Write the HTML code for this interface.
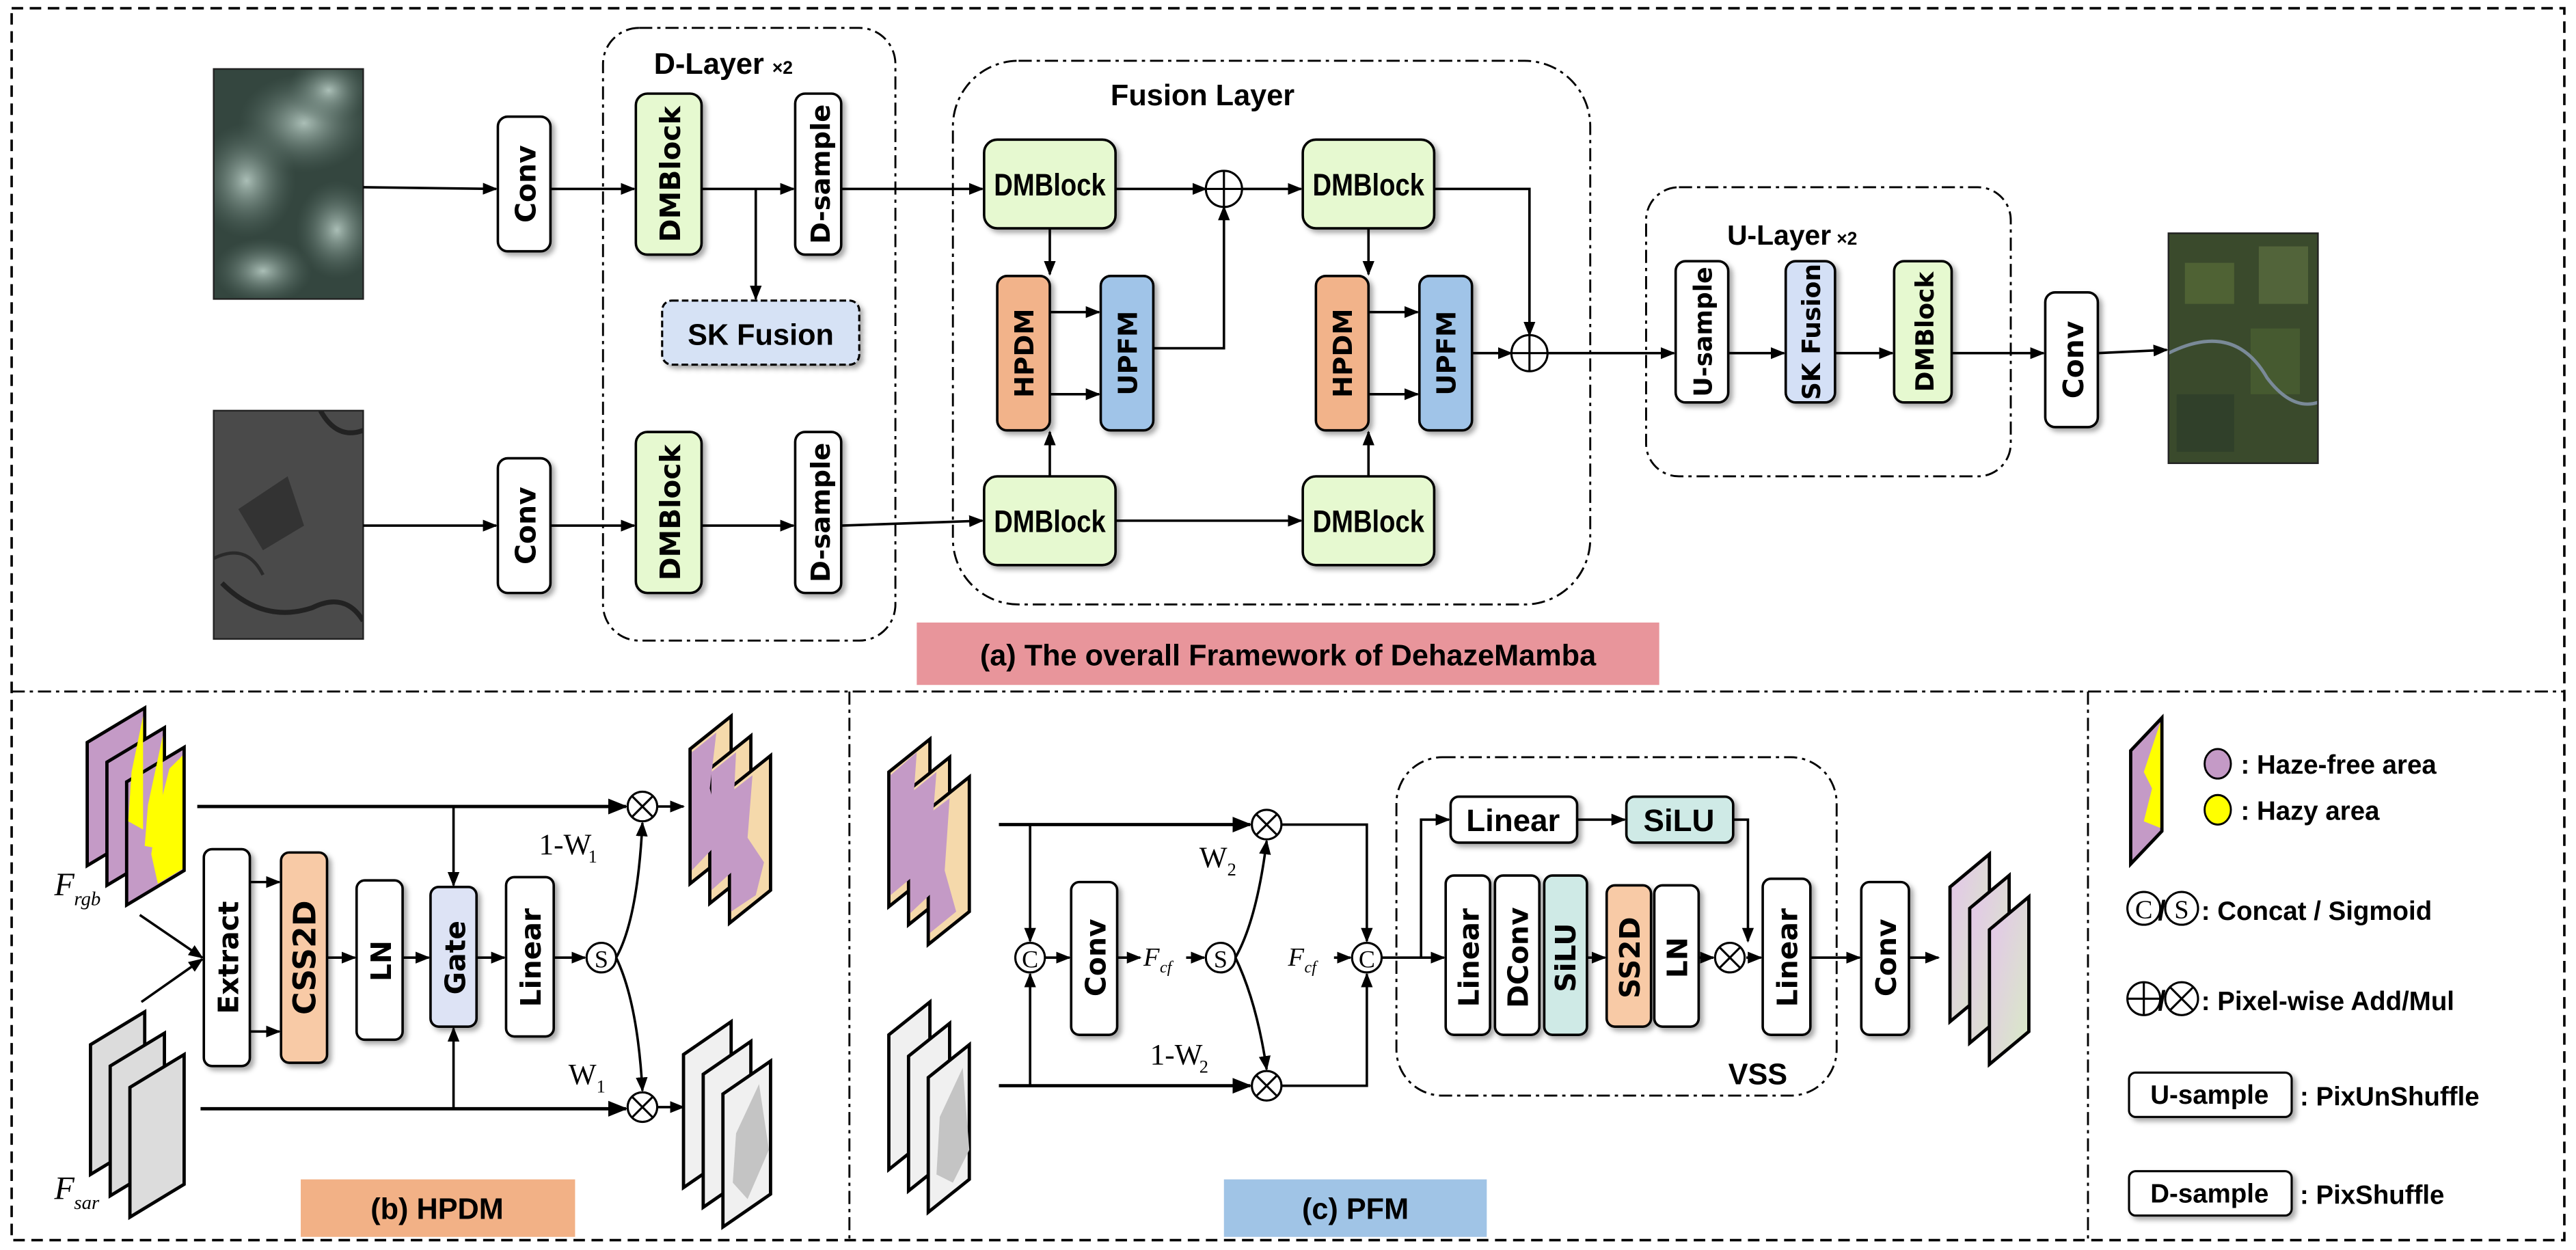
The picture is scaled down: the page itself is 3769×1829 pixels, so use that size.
<!DOCTYPE html>
<html><head><meta charset="utf-8"><style>
html,body{margin:0;padding:0;background:#fff}
svg{display:block}
text{font-family:"Liberation Sans",sans-serif;font-weight:bold;fill:#000}
.v{font-family:"DejaVu Sans","Liberation Sans",sans-serif;font-weight:bold}
.it{font-family:"Liberation Serif",serif;font-style:italic;font-weight:normal}
.rm{font-family:"Liberation Serif",serif;font-weight:normal}
</style></head><body>
<svg width="3769" height="1829" viewBox="0 0 1568 761" xmlns="http://www.w3.org/2000/svg">
<defs>
<marker id="a" viewBox="0 0 10 10" refX="9" refY="5" markerWidth="6" markerHeight="6" orient="auto"><path d="M0,1 L10,5 L0,9 z" fill="#000"/></marker>
<filter id="sh" x="-20%" y="-20%" width="150%" height="150%"><feDropShadow dx="2" dy="2" stdDeviation="1.5" flood-color="#000" flood-opacity="0.35"/></filter>
<linearGradient id="pg" x1="0" y1="0" x2="1" y2="1"><stop offset="0" stop-color="#e4c4ec"/><stop offset="1" stop-color="#d8ecc4"/></linearGradient>
<radialGradient id="cl" cx="0.5" cy="0.5" r="0.5"><stop offset="0" stop-color="#b8ccc4" stop-opacity="0.9"/><stop offset="1" stop-color="#5a7068" stop-opacity="0"/></radialGradient>
<clipPath id="c1"><rect x="130" y="42" width="91" height="140"/></clipPath>
<clipPath id="c2"><rect x="130" y="250" width="91" height="139"/></clipPath>
<clipPath id="c3"><rect x="1320" y="142" width="91" height="140"/></clipPath>
</defs>
<rect width="1568" height="761" fill="#fff"/>
<rect x="7" y="5" width="1554" height="750" fill="none" stroke="#000" stroke-width="1.5" stroke-dasharray="7,4"/>
<line x1="7" y1="421" x2="1561" y2="421" stroke="#000" stroke-width="1.2" stroke-dasharray="8,3,2,3"/>
<line x1="517" y1="421" x2="517" y2="755" stroke="#000" stroke-width="1.2" stroke-dasharray="8,3,2,3"/>
<line x1="1271" y1="421" x2="1271" y2="755" stroke="#000" stroke-width="1.2" stroke-dasharray="8,3,2,3"/>

<!-- images -->
<g clip-path="url(#c1)">
<rect x="130" y="42" width="91" height="140" fill="#34463f"/>
<ellipse cx="185" cy="75" rx="40" ry="30" fill="url(#cl)"/>
<ellipse cx="150" cy="110" rx="30" ry="35" fill="url(#cl)"/>
<ellipse cx="205" cy="140" rx="25" ry="30" fill="url(#cl)"/>
<ellipse cx="160" cy="165" rx="30" ry="20" fill="url(#cl)"/>
<ellipse cx="200" cy="55" rx="25" ry="20" fill="url(#cl)"/>
</g>
<rect x="130" y="42" width="91" height="140" fill="none" stroke="#222" stroke-width="1"/>
<g clip-path="url(#c2)">
<rect x="130" y="250" width="91" height="139" fill="#4a4a4a"/>
<path d="M135,355 Q160,380 190,370 Q210,360 221,378" stroke="#222" stroke-width="3" fill="none"/>
<path d="M195,250 Q205,268 221,262" stroke="#222" stroke-width="3" fill="none"/>
<path d="M145,310 L175,290 L185,320 L160,335 z" fill="#333"/>
<path d="M130,340 Q150,330 160,350" stroke="#2a2a2a" stroke-width="2" fill="none"/>
</g>
<rect x="130" y="250" width="91" height="139" fill="none" stroke="#222"/>
<g clip-path="url(#c3)">
<rect x="1320" y="142" width="91" height="140" fill="#3a4a2c"/>
<rect x="1330" y="160" width="30" height="25" fill="#4f6234"/><rect x="1370" y="200" width="30" height="40" fill="#465a30"/>
<rect x="1325" y="240" width="35" height="35" fill="#30402a"/><rect x="1375" y="150" width="30" height="35" fill="#52643a"/>
<path d="M1320,215 Q1360,195 1380,230 Q1395,250 1411,245" stroke="#7a8a98" stroke-width="2" fill="none"/>
</g>
<rect x="1320" y="142" width="91" height="140" fill="none" stroke="#222"/>

<rect x="367" y="17" width="178" height="373" rx="22" fill="none" stroke="#000" stroke-width="1.2" stroke-dasharray="8,3,2,3"/>
<text x="398" y="45" font-size="18">D-Layer</text><text x="470" y="45" font-size="11">×2</text>
<rect x="580" y="37" width="388" height="331" rx="40" fill="none" stroke="#000" stroke-width="1.2" stroke-dasharray="8,3,2,3"/>
<text x="732" y="64" font-size="18" text-anchor="middle">Fusion Layer</text>
<rect x="1002" y="114" width="222" height="176" rx="20" fill="none" stroke="#000" stroke-width="1.2" stroke-dasharray="8,3,2,3"/>
<text x="1083" y="149" font-size="17" text-anchor="middle">U-Layer</text><text x="1118" y="149" font-size="11">×2</text>

<g stroke="#000" stroke-width="1.5" filter="url(#sh)">
<rect x="303" y="71" width="32" height="82" rx="6" fill="#fff"/>
<rect x="303" y="279" width="32" height="82" rx="6" fill="#fff"/>
<rect x="387" y="57" width="40" height="98" rx="7" fill="#e6f9d0"/>
<rect x="484" y="57" width="28" height="98" rx="6" fill="#fff"/>
<rect x="387" y="263" width="40" height="98" rx="7" fill="#e6f9d0"/>
<rect x="484" y="263" width="28" height="98" rx="6" fill="#fff"/>
<rect x="599" y="85" width="80" height="54" rx="8" fill="#e6f9d0"/>
<rect x="793" y="85" width="80" height="54" rx="8" fill="#e6f9d0"/>
<rect x="599" y="290" width="80" height="54" rx="8" fill="#e6f9d0"/>
<rect x="793" y="290" width="80" height="54" rx="8" fill="#e6f9d0"/>
<rect x="607" y="168" width="32" height="94" rx="6" fill="#f2b38a"/>
<rect x="670" y="168" width="32" height="94" rx="6" fill="#a0c4e8"/>
<rect x="801" y="168" width="32" height="94" rx="6" fill="#f2b38a"/>
<rect x="864" y="168" width="32" height="94" rx="6" fill="#a0c4e8"/>
<rect x="1020" y="159" width="32" height="86" rx="6" fill="#fff"/>
<rect x="1087" y="159" width="30" height="86" rx="6" fill="#d4e0f6"/>
<rect x="1153" y="159" width="35" height="86" rx="6" fill="#e6f9d0"/>
<rect x="1245" y="178" width="32" height="82" rx="6" fill="#fff"/>
</g>
<rect x="403" y="183" width="120" height="39" rx="6" fill="#d6e2f5" stroke="#000" stroke-width="1.3" stroke-dasharray="4,2" filter="url(#sh)"/>
<text x="463" y="210" font-size="18" text-anchor="middle">SK Fusion</text>

<g class="v" font-size="17">
<text class="v" transform="translate(326,112) rotate(-90)" text-anchor="middle">Conv</text>
<text class="v" transform="translate(326,320) rotate(-90)" text-anchor="middle">Conv</text>
<text class="v" transform="translate(414,106) rotate(-90)" text-anchor="middle">DMBlock</text>
<text class="v" transform="translate(414,312) rotate(-90)" text-anchor="middle">DMBlock</text>
<text class="v" transform="translate(505,106) rotate(-90)" text-anchor="middle" font-size="16">D-sample</text>
<text class="v" transform="translate(505,312) rotate(-90)" text-anchor="middle" font-size="16">D-sample</text>
<text class="v" transform="translate(629,215) rotate(-90)" text-anchor="middle" font-size="16">HPDM</text>
<text class="v" transform="translate(692,215) rotate(-90)" text-anchor="middle" font-size="16">UPFM</text>
<text class="v" transform="translate(823,215) rotate(-90)" text-anchor="middle" font-size="16">HPDM</text>
<text class="v" transform="translate(886,215) rotate(-90)" text-anchor="middle" font-size="16">UPFM</text>
<text class="v" transform="translate(1042,202) rotate(-90)" text-anchor="middle" font-size="15">U-sample</text>
<text class="v" transform="translate(1108,202) rotate(-90)" text-anchor="middle" font-size="15">SK Fusion</text>
<text class="v" transform="translate(1177,202) rotate(-90)" text-anchor="middle" font-size="15">DMBlock</text>
<text class="v" transform="translate(1268,219) rotate(-90)" text-anchor="middle">Conv</text>
</g>
<g font-size="19">
<text x="605" y="119" textLength="68" lengthAdjust="spacingAndGlyphs">DMBlock</text>
<text x="799" y="119" textLength="68" lengthAdjust="spacingAndGlyphs">DMBlock</text>
<text x="605" y="324" textLength="68" lengthAdjust="spacingAndGlyphs">DMBlock</text>
<text x="799" y="324" textLength="68" lengthAdjust="spacingAndGlyphs">DMBlock</text>
</g>

<g stroke="#000" stroke-width="1.5" fill="none" marker-end="url(#a)">
<line x1="221" y1="114" x2="302" y2="115"/>
<line x1="335" y1="115" x2="386" y2="115"/>
<line x1="427" y1="115" x2="483" y2="115"/>
<line x1="460" y1="115" x2="460" y2="182"/>
<line x1="512" y1="115" x2="598" y2="115"/>
<line x1="679" y1="115" x2="734" y2="115"/>
<line x1="756" y1="115" x2="792" y2="115"/>
<line x1="639" y1="139" x2="639" y2="167"/>
<line x1="639" y1="290" x2="639" y2="263"/>
<line x1="833" y1="139" x2="833" y2="167"/>
<line x1="833" y1="290" x2="833" y2="263"/>
<line x1="639" y1="190" x2="669" y2="190"/>
<line x1="639" y1="240" x2="669" y2="240"/>
<line x1="833" y1="190" x2="863" y2="190"/>
<line x1="833" y1="240" x2="863" y2="240"/>
<polyline points="702,212 745,212 745,126"/>
<polyline points="873,115 931,115 931,204"/>
<line x1="896" y1="215" x2="920" y2="215"/>
<line x1="942" y1="215" x2="1019" y2="215"/>
<line x1="1052" y1="215" x2="1086" y2="215"/>
<line x1="1117" y1="215" x2="1152" y2="215"/>
<line x1="1188" y1="215" x2="1244" y2="215"/>
<line x1="1277" y1="215" x2="1319" y2="213"/>
<line x1="221" y1="320" x2="302" y2="320"/>
<line x1="335" y1="320" x2="386" y2="320"/>
<line x1="427" y1="320" x2="483" y2="320"/>
<line x1="512" y1="320" x2="598" y2="317"/>
<line x1="679" y1="317" x2="792" y2="317"/>
</g>
<g stroke="#000" stroke-width="1.3" fill="#fff">
<circle cx="745" cy="115" r="11"/><line x1="734" y1="115" x2="756" y2="115"/><line x1="745" y1="104" x2="745" y2="126"/>
<circle cx="931" cy="215" r="11"/><line x1="920" y1="215" x2="942" y2="215"/><line x1="931" y1="204" x2="931" y2="226"/>
</g>
<rect x="558" y="379" width="452" height="38" fill="#e8959b"/>
<text x="784" y="405" font-size="18" text-anchor="middle">(a) The overall Framework of DehazeMamba</text>

<!-- (b) HPDM -->
<g stroke="#000" stroke-width="2">
<polygon points="53,452 88,431 88,506 53,527" fill="#c49ac6"/>
<polygon points="65,464 100,443 100,518 65,539" fill="#c49ac6"/>
<polygon points="77,476 112,455 112,530 77,551" fill="#c49ac6"/>
</g>
<polygon points="80,470 87,436 87,505 78,500" fill="#ffff00"/>
<polygon points="90,490 99,448 99,517 88,515" fill="#ffff00"/>
<polygon points="95,500 103,468 111,460 111,529 96,538 92,520" fill="#ffff00"/>
<g stroke="#000" stroke-width="2" fill="#dcdcdc">
<polygon points="55,636 88,616 88,695 55,715"/>
<polygon points="67,649 100,629 100,708 67,728"/>
<polygon points="79,662 112,642 112,721 79,741"/>
</g>
<text class="it" x="33" y="545" font-size="20">F</text><text class="it" x="45" y="551" font-size="12">rgb</text>
<text class="it" x="33" y="730" font-size="20">F</text><text class="it" x="45" y="736" font-size="12">sar</text>
<g stroke="#000" stroke-width="2" fill="#f5d9ab">
<polygon points="420,456 445,436 445,518 420,538"/>
<polygon points="432,468 457,448 457,530 432,550"/>
<polygon points="444,480 469,460 469,542 444,562"/>
</g>
<polygon points="421,458 436,446 432,480 440,510 421,530" fill="#c49ac6"/>
<polygon points="433,470 448,458 446,500 452,525 433,542" fill="#c49ac6"/>
<polygon points="445,482 458,472 455,510 465,525 460,545 445,555" fill="#c49ac6"/>
<g stroke="#000" stroke-width="2" fill="#f0f0f0">
<polygon points="416,642 445,622 445,703 416,723"/>
<polygon points="428,654 457,634 457,715 428,735"/>
<polygon points="440,666 469,646 469,727 440,747"/>
</g>
<polygon points="448,690 462,660 468,700 455,730 446,720" fill="#c4c4c4"/>

<g stroke="#000" stroke-width="1.5" filter="url(#sh)">
<rect x="124" y="517" width="28" height="132" rx="5" fill="#fff"/>
<rect x="171" y="519" width="28" height="128" rx="5" fill="#f8caa6"/>
<rect x="217" y="536" width="28" height="97" rx="5" fill="#fff"/>
<rect x="262" y="540" width="28" height="85" rx="5" fill="#dde3f5"/>
<rect x="308" y="534" width="29" height="97" rx="5" fill="#fff"/>
</g>
<g class="v" font-size="17">
<text class="v" transform="translate(145,583) rotate(-90)" text-anchor="middle">Extract</text>
<text class="v" transform="translate(192,583) rotate(-90)" text-anchor="middle" font-size="19">CSS2D</text>
<text class="v" transform="translate(238,585) rotate(-90)" text-anchor="middle">LN</text>
<text class="v" transform="translate(283,583) rotate(-90)" text-anchor="middle">Gate</text>
<text class="v" transform="translate(329,583) rotate(-90)" text-anchor="middle">Linear</text>
</g>
<g stroke="#000" stroke-width="1.5" fill="none" marker-end="url(#a)">
<line x1="120" y1="491" x2="381" y2="491" stroke-width="2"/>
<line x1="122" y1="675" x2="381" y2="675" stroke-width="2"/>
<line x1="276" y1="491" x2="276" y2="539"/>
<line x1="276" y1="675" x2="276" y2="626"/>
<line x1="85" y1="557" x2="123" y2="583"/>
<line x1="86" y1="610" x2="123" y2="584"/>
<line x1="152" y1="537" x2="170" y2="537"/>
<line x1="152" y1="628" x2="170" y2="628"/>
<line x1="199" y1="583" x2="216" y2="583"/>
<line x1="245" y1="583" x2="261" y2="583"/>
<line x1="290" y1="583" x2="307" y2="583"/>
<line x1="337" y1="583" x2="356" y2="583"/>
<path d="M375,583 Q388,560 391,501"/>
<path d="M375,583 Q388,610 391,664"/>
<line x1="400" y1="491" x2="416" y2="491"/>
<line x1="400" y1="674" x2="416" y2="674"/>
</g>
<g stroke="#000" stroke-width="1.3" fill="#fff">
<circle cx="366" cy="583" r="9"/>
<circle cx="391" cy="491" r="9"/><line x1="385" y1="485" x2="397" y2="497"/><line x1="397" y1="485" x2="385" y2="497"/>
<circle cx="391" cy="674" r="9"/><line x1="385" y1="668" x2="397" y2="680"/><line x1="397" y1="668" x2="385" y2="680"/>
</g>
<text class="rm" x="366" y="589" font-size="15" text-anchor="middle">S</text>
<text class="rm" x="328" y="520" font-size="18">1-W</text><text class="rm" x="358" y="525" font-size="11">1</text>
<text class="rm" x="346" y="660" font-size="18">W</text><text class="rm" x="363" y="665" font-size="11">1</text>
<rect x="183" y="718" width="167" height="35" fill="#f2b186"/>
<text x="266" y="742" font-size="18" text-anchor="middle">(b) HPDM</text>

<!-- (c) PFM -->
<g stroke="#000" stroke-width="2" fill="#f5d9ab">
<polygon points="541,470 566,450 566,532 541,552"/>
<polygon points="553,481 578,461 578,543 553,563"/>
<polygon points="565,493 590,473 590,555 565,575"/>
</g>
<polygon points="542,472 558,458 555,500 560,530 542,545" fill="#c49ac6"/>
<polygon points="554,483 570,470 566,520 571,540 554,556" fill="#c49ac6"/>
<polygon points="566,495 578,486 575,530 582,555 566,568" fill="#c49ac6"/>
<g stroke="#000" stroke-width="2" fill="#f0f0f0">
<polygon points="541,630 566,610 566,692 541,712"/>
<polygon points="553,643 578,623 578,705 553,725"/>
<polygon points="565,656 590,636 590,718 565,738"/>
</g>
<polygon points="572,680 586,650 590,700 580,720 570,715" fill="#c4c4c4"/>

<rect x="652" y="537" width="28" height="93" rx="5" fill="#fff" stroke="#000" stroke-width="1.5" filter="url(#sh)"/>
<text class="v" transform="translate(673,583) rotate(-90)" text-anchor="middle" font-size="17">Conv</text>
<g stroke="#000" stroke-width="1.5" fill="none" marker-end="url(#a)">
<line x1="608" y1="502" x2="761" y2="502" stroke-width="2"/>
<line x1="608" y1="661" x2="761" y2="661" stroke-width="2"/>
<line x1="627" y1="502" x2="627" y2="573"/>
<line x1="627" y1="661" x2="627" y2="593"/>
<line x1="636" y1="583" x2="651" y2="583"/>
<line x1="680" y1="583" x2="694" y2="583"/>
<line x1="722" y1="583" x2="733" y2="583"/>
<path d="M752,583 Q765,560 771,512"/>
<path d="M752,583 Q765,610 771,651"/>
<polyline points="780,502 832,502 832,573"/>
<polyline points="780,661 832,661 832,593"/>
<line x1="812" y1="583" x2="822" y2="583"/>
<line x1="841" y1="583" x2="879" y2="583"/>
<polyline points="865,583 865,499 882,499"/>
<line x1="960" y1="499" x2="989" y2="499"/>
<polyline points="1055,499 1064,499 1064,573"/>
<line x1="1034" y1="583" x2="1043" y2="583"/>
<line x1="965" y1="583" x2="977" y2="583"/>
<line x1="1063" y1="583" x2="1072" y2="583"/>
<line x1="1102" y1="583" x2="1132" y2="583"/>
<line x1="1162" y1="583" x2="1180" y2="583"/>
</g>
<g stroke="#000" stroke-width="1.3" fill="#fff">
<circle cx="627" cy="583" r="9"/><circle cx="743" cy="583" r="9"/><circle cx="832" cy="583" r="9"/>
<circle cx="771" cy="502" r="9"/><line x1="765" y1="496" x2="777" y2="508"/><line x1="777" y1="496" x2="765" y2="508"/>
<circle cx="771" cy="661" r="9"/><line x1="765" y1="655" x2="777" y2="667"/><line x1="777" y1="655" x2="765" y2="667"/>
<circle cx="1053" cy="583" r="9"/><line x1="1047" y1="577" x2="1059" y2="589"/><line x1="1059" y1="577" x2="1047" y2="589"/>
</g>
<g class="rm" font-size="15" text-anchor="middle"><text class="rm" x="627" y="589">C</text><text class="rm" x="743" y="589">S</text><text class="rm" x="832" y="589">C</text></g>
<text class="it" x="696" y="588" font-size="16">F</text><text class="it" x="706" y="592" font-size="10">cf</text>
<text class="it" x="784" y="588" font-size="16">F</text><text class="it" x="794" y="592" font-size="10">cf</text>
<text class="rm" x="730" y="528" font-size="18">W</text><text class="rm" x="747" y="533" font-size="11">2</text>
<text class="rm" x="700" y="648" font-size="18">1-W</text><text class="rm" x="730" y="653" font-size="11">2</text>

<rect x="850" y="461" width="268" height="206" rx="28" fill="none" stroke="#000" stroke-width="1.2" stroke-dasharray="8,3,2,3"/>
<text x="1070" y="660" font-size="18" text-anchor="middle">VSS</text>
<g stroke="#000" stroke-width="1.5" filter="url(#sh)">
<rect x="883" y="485" width="77" height="28" rx="5" fill="#fff"/>
<rect x="990" y="485" width="65" height="28" rx="5" fill="#cfeae6"/>
<rect x="880" y="533" width="27" height="97" rx="5" fill="#fff"/>
<rect x="910" y="533" width="27" height="97" rx="5" fill="#fff"/>
<rect x="940" y="533" width="26" height="97" rx="5" fill="#cfeae6"/>
<rect x="978" y="539" width="27" height="86" rx="5" fill="#f8caa6"/>
<rect x="1007" y="539" width="27" height="86" rx="5" fill="#fff"/>
<rect x="1073" y="535" width="29" height="95" rx="5" fill="#fff"/>
<rect x="1133" y="537" width="29" height="93" rx="5" fill="#fff"/>
</g>
<text x="921" y="506" font-size="19" text-anchor="middle">Linear</text>
<text x="1022" y="506" font-size="19" text-anchor="middle">SiLU</text>
<g class="v" font-size="17">
<text class="v" transform="translate(900,583) rotate(-90)" text-anchor="middle">Linear</text>
<text class="v" transform="translate(930,583) rotate(-90)" text-anchor="middle">DConv</text>
<text class="v" transform="translate(959,583) rotate(-90)" text-anchor="middle">SiLU</text>
<text class="v" transform="translate(998,583) rotate(-90)" text-anchor="middle">SS2D</text>
<text class="v" transform="translate(1027,583) rotate(-90)" text-anchor="middle">LN</text>
<text class="v" transform="translate(1094,583) rotate(-90)" text-anchor="middle">Linear</text>
<text class="v" transform="translate(1154,583) rotate(-90)" text-anchor="middle">Conv</text>
</g>
<g stroke="#000" stroke-width="2" fill="url(#pg)">
<polygon points="1187,540 1211,520 1211,602 1187,622"/>
<polygon points="1199,553 1223,533 1223,615 1199,635"/>
<polygon points="1211,566 1235,546 1235,628 1211,648"/>
</g>
<rect x="745" y="718" width="160" height="35" fill="#a0c4e6"/>
<text x="825" y="742" font-size="18" text-anchor="middle">(c) PFM</text>

<!-- legend -->
<polygon points="1297,457 1316,437 1316,506 1297,526" fill="#c49ac6" stroke="#000" stroke-width="2"/>
<polygon points="1305,470 1315,440 1315,504 1305,500 1310,480" fill="#ffff00"/>
<ellipse cx="1350" cy="465" rx="8" ry="9" fill="#c49ac6" stroke="#000" stroke-width="1.2"/>
<ellipse cx="1350" cy="493" rx="8" ry="9" fill="#ffff00" stroke="#000" stroke-width="1.2"/>
<text x="1364" y="471" font-size="16">: Haze-free area</text>
<text x="1364" y="499" font-size="16">: Hazy area</text>
<g stroke="#000" stroke-width="1.3" fill="#fff">
<circle cx="1305" cy="553" r="10"/><circle cx="1328" cy="553" r="10"/>
<circle cx="1305" cy="608" r="10"/><line x1="1295" y1="608" x2="1315" y2="608"/><line x1="1305" y1="598" x2="1305" y2="618"/>
<circle cx="1328" cy="608" r="10"/><line x1="1321" y1="601" x2="1335" y2="615"/><line x1="1335" y1="601" x2="1321" y2="615"/>
</g>
<text class="rm" x="1305" y="559" font-size="16" text-anchor="middle">C</text>
<text class="rm" x="1328" y="559" font-size="16" text-anchor="middle">S</text>
<text x="1316" y="560" font-size="17" text-anchor="middle">/</text>
<text x="1316" y="615" font-size="17" text-anchor="middle">/</text>
<text x="1340" y="560" font-size="16">: Concat / Sigmoid</text>
<text x="1340" y="615" font-size="16">: Pixel-wise Add/Mul</text>
<rect x="1296" y="653" width="99" height="27" rx="4" fill="#fff" stroke="#000" stroke-width="1.3" filter="url(#sh)"/>
<text x="1345" y="672" font-size="16" text-anchor="middle">U-sample</text>
<text x="1400" y="673" font-size="16">: PixUnShuffle</text>
<rect x="1296" y="713" width="99" height="27" rx="4" fill="#fff" stroke="#000" stroke-width="1.3" filter="url(#sh)"/>
<text x="1345" y="732" font-size="16" text-anchor="middle">D-sample</text>
<text x="1400" y="733" font-size="16">: PixShuffle</text>
</svg>
</body></html>
